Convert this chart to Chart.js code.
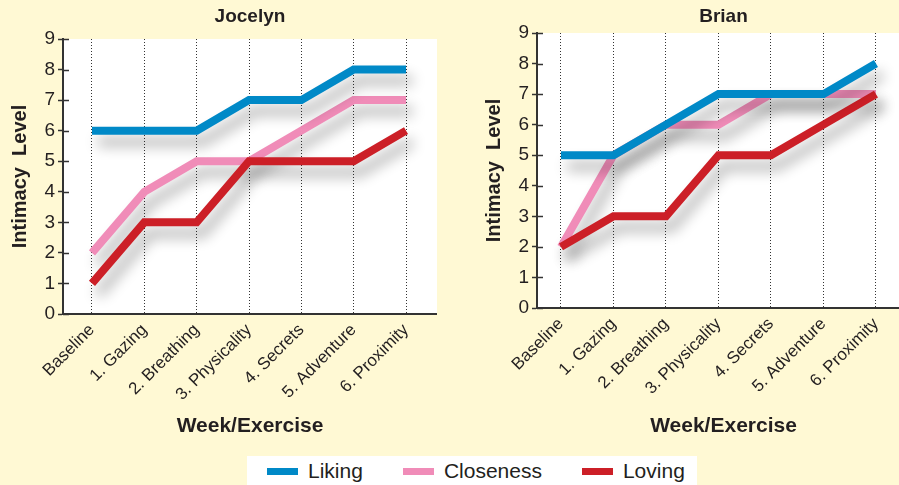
<!DOCTYPE html>
<html>
<head>
<meta charset="utf-8">
<script src="https://cdn.jsdelivr.net/npm/chart.js@4/dist/chart.umd.min.js"></script>
<style>
  html, body { margin: 0; padding: 0; background: #fff9d4; overflow: hidden; width: 899px; height: 485px; }
  canvas { position: absolute; top: 0; }
  #jocelynChart { left: 0; }
  #brianChart { left: 474px; }
  #legend {
    position: absolute; left: 247px; top: 456px; width: 450px; height: 30px;
    background: #fff; display: flex; align-items: center; padding-left: 20px; box-sizing: border-box;
    font-family: "Liberation Sans", Arial, sans-serif; font-size: 21px; color: #231f20;
  }
  #legend .item { display: flex; align-items: center; margin-right: 40px; }
  #legend .swatch { width: 31px; height: 7px; margin-right: 10px; }
</style>
</head>
<body>
<canvas id="jocelynChart" width="437" height="441"></canvas>
<canvas id="brianChart" width="436" height="441"></canvas>
<div id="legend"></div>
<script>
// categories
const weeks = ['Baseline', '1. Gazing', '2. Breathing', '3. Physicality', '4. Secrets', '5. Adventure', '6. Proximity'];
const seriesNames = ['Liking', 'Closeness', 'Loving'];
const seriesColors = ['#0089c7', '#f08cb8', '#cc1f27'];

// Jocelyn
const jocelynLiking = [6, 6, 6, 7, 7, 8, 8];
const jocelynCloseness = [2, 4, 5, 5, 6, 7, 7];
const jocelynLoving = [1, 3, 3, 5, 5, 5, 6];

// Brian
const brianLiking = [5, 5, 6, 7, 7, 7, 8];
const brianCloseness = [2, 5, 6, 6, 7, 7, 7];
const brianLoving = [2, 3, 3, 5, 5, 6, 7];

const yTicks = [0, 1, 2, 3, 4, 5, 6, 7, 8, 9];

const textColor = '#231f20';
const axisColor = '#333';
const sans = '"Liberation Sans", Arial, sans-serif';

// white plot area + small tick marks that cross into the plot
const plotBg = {
  id: 'plotBg',
  beforeDraw(chart) {
    const { ctx, chartArea: a } = chart;
    ctx.save();
    ctx.fillStyle = '#fff';
    ctx.fillRect(a.left, a.top, a.right - a.left, a.bottom - a.top);
    ctx.restore();
  },
  afterDraw(chart) {
    const { ctx, chartArea: a, scales } = chart;
    ctx.save();
    ctx.strokeStyle = axisColor;
    ctx.lineWidth = 1.5;
    scales.y.ticks.forEach((t) => {
      const y = Math.round(scales.y.getPixelForValue(t.value)) + 0.5;
      ctx.beginPath();
      ctx.moveTo(a.left, y);
      ctx.lineTo(a.left + 6, y);
      ctx.stroke();
    });
    ctx.restore();
  },
};

// soft drop shadow under every line
const lineShadow = {
  id: 'lineShadow',
  beforeDatasetDraw(chart) {
    const ctx = chart.ctx;
    ctx.save();
    ctx.shadowColor = 'rgba(0, 0, 0, 0.33)';
    ctx.shadowBlur = 14;
    ctx.shadowOffsetX = 6;
    ctx.shadowOffsetY = 11;
  },
  afterDatasetDraw(chart) {
    chart.ctx.restore();
  },
};

const makeChart = (id, name, values, xMin, xMax, titleBottom, xHeight) => {
  const order = [0, 2, 1]; // liking on top, closeness underneath
  const ctx = document.getElementById(id).getContext('2d');
  return new Chart(ctx, {
    type: 'line',
    data: {
      datasets: values.map((vals, i) => ({
        label: seriesNames[i],
        data: vals.map((v, j) => ({ x: j, y: v })),
        borderColor: seriesColors[i],
        borderWidth: 8,
        borderCapStyle: 'butt',
        borderJoinStyle: 'miter',
        pointRadius: 0,
        tension: 0,
        order: order[i],
      })),
    },
    options: {
      responsive: false,
      animation: false,
      layout: { padding: 0 },
      plugins: {
        legend: { display: false },
        tooltip: { enabled: false },
        title: {
          display: true,
          text: name,
          fullSize: false,
          color: textColor,
          font: { family: sans, size: 19, weight: 'bold' },
          padding: { top: 5, bottom: titleBottom },
        },
      },
      scales: {
        x: {
          type: 'linear',
          min: xMin,
          max: xMax,
          afterBuildTicks: (scale) => {
            scale.ticks = weeks.map((w, i) => ({ value: i }));
          },
          afterFit: (scale) => {
            scale.height = xHeight;
          },
          ticks: {
            autoSkip: false,
            minRotation: 45,
            maxRotation: 45,
            padding: 6,
            color: textColor,
            font: { family: sans, size: 17 },
            callback: (value) => weeks[value],
          },
          grid: { drawTicks: false, color: axisColor, lineWidth: 1 },
          border: { color: axisColor, width: 2, dash: [1, 2] },
          title: {
            display: true,
            text: 'Week/Exercise',
            color: textColor,
            font: { family: sans, size: 21, weight: 'bold' },
            padding: { top: 0, bottom: 2 },
          },
        },
        y: {
          min: 0,
          max: 9,
          afterBuildTicks: (scale) => {
            scale.ticks = yTicks.map((v) => ({ value: v }));
          },
          afterFit: (scale) => {
            scale.width = 63;
          },
          ticks: {
            padding: 3,
            color: textColor,
            font: { family: sans, size: 19 },
          },
          grid: {
            drawOnChartArea: false,
            drawTicks: true,
            tickLength: 5,
            tickColor: axisColor,
            tickWidth: 1.5,
          },
          border: { color: axisColor, width: 2 },
          title: {
            display: true,
            text: 'Intimacy  Level',
            color: textColor,
            font: { family: sans, size: 20, weight: 'bold' },
            padding: { top: 8, bottom: 0 },
          },
        },
      },
    },
    plugins: [plotBg, lineShadow],
  });
};

makeChart('jocelynChart', 'Jocelyn', [jocelynLiking, jocelynCloseness, jocelynLoving], -0.554, 6.592, 11.2, 127);
makeChart('brianChart', 'Brian', [brianLiking, brianCloseness, brianLoving], -0.457, 6.648, 5.2, 133);

// shared legend under both charts
const legend = document.getElementById('legend');
seriesNames.forEach((name, i) => {
  const item = document.createElement('div');
  item.className = 'item';
  const swatch = document.createElement('span');
  swatch.className = 'swatch';
  swatch.style.background = seriesColors[i];
  const label = document.createElement('span');
  label.textContent = name;
  item.appendChild(swatch);
  item.appendChild(label);
  legend.appendChild(item);
});
</script>
</body>
</html>
